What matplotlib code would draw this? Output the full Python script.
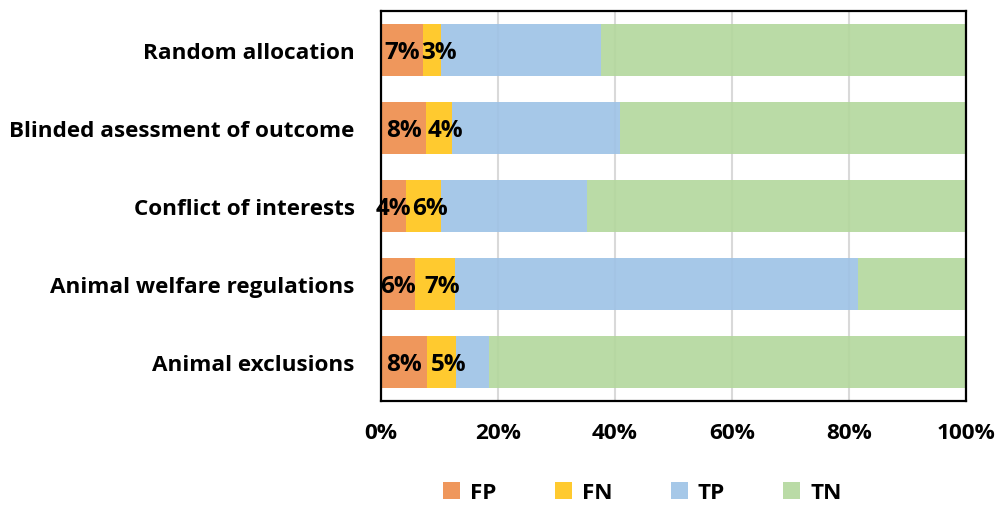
import matplotlib
matplotlib.use("Agg")
import matplotlib.pyplot as plt
import numpy as np

categories = ['Random allocation', 'Blinded asessment of outcome', 'Conflict of interests',
              'Animal welfare regulations', 'Animal exclusions']
fp = [7.1, 7.7, 4.2, 5.8, 7.8]
fn = [3.1, 4.4, 6.1, 6.9, 5.0]
tp = [27.4, 28.8, 24.9, 68.8, 5.7]
tn = [100 - a - b - c for a, b, c in zip(fp, fn, tp)]
fp_labels = ['7%', '8%', '4%', '6%', '8%']
fn_labels = ['3%', '4%', '6%', '7%', '5%']
series_names = ['FP', 'FN', 'TP', 'TN']
colors = ['#EE8C4A', '#FFC518', '#9DC2E6', '#B3D79C']

plt.rcParams['font.family'] = ['Open Sans', 'DejaVu Sans']
plt.rcParams['font.weight'] = 'bold'
FS = 16.2

fig = plt.figure(figsize=(9.99, 5.06), dpi=100)
ax = fig.add_axes([0.3814, 0.2055, 0.5856, 0.7708])

y = np.arange(len(categories))
left = np.zeros(len(categories))
for vals, name, col in zip([fp, fn, tp, tn], series_names, colors):
    ax.barh(y, vals, left=left, height=0.667, color=col, alpha=0.9, label=name, zorder=2)
    left = left + np.array(vals)

# data labels for FP and FN
for i in range(len(categories)):
    ax.annotate(fp_labels[i], (fp[i] / 2, y[i]), xytext=(0, -1.5),
                textcoords='offset points', ha='center', va='center',
                fontsize=17.5, fontweight='bold', color='black', zorder=3)
    ax.annotate(fn_labels[i], (fp[i] + fn[i] / 2, y[i]), xytext=(5, -1.5),
                textcoords='offset points', ha='center', va='center',
                fontsize=17.5, fontweight='bold', color='black', zorder=3)

ax.set_xlim(0, 100)
ax.set_ylim(-0.5, len(categories) - 0.5)
ax.invert_yaxis()
ax.set_yticks(y)
ax.set_yticklabels(categories, fontsize=FS, fontweight='bold')
ax.set_xticks(np.arange(0, 101, 20))
ax.set_xticklabels([f'{v}%' for v in range(0, 101, 20)], fontsize=FS, fontweight='bold')
ax.tick_params(axis='y', length=0, pad=19)
ax.tick_params(axis='x', length=0, pad=15)
ax.grid(axis='x', color='#D9D9D9', linewidth=1.5, zorder=0)
ax.set_axisbelow(True)
for s in ax.spines.values():
    s.set_linewidth(1.6)
    s.set_color('black')
    s.set_zorder(4)

fig.legend(loc='center', bbox_to_anchor=(0.643, 0.024), ncol=4, frameon=False,
           handlelength=0.75, handleheight=0.75, columnspacing=2.6,
           handletextpad=0.45, prop={'weight': 'bold', 'size': FS})

fig.savefig('out.png', dpi=100)
